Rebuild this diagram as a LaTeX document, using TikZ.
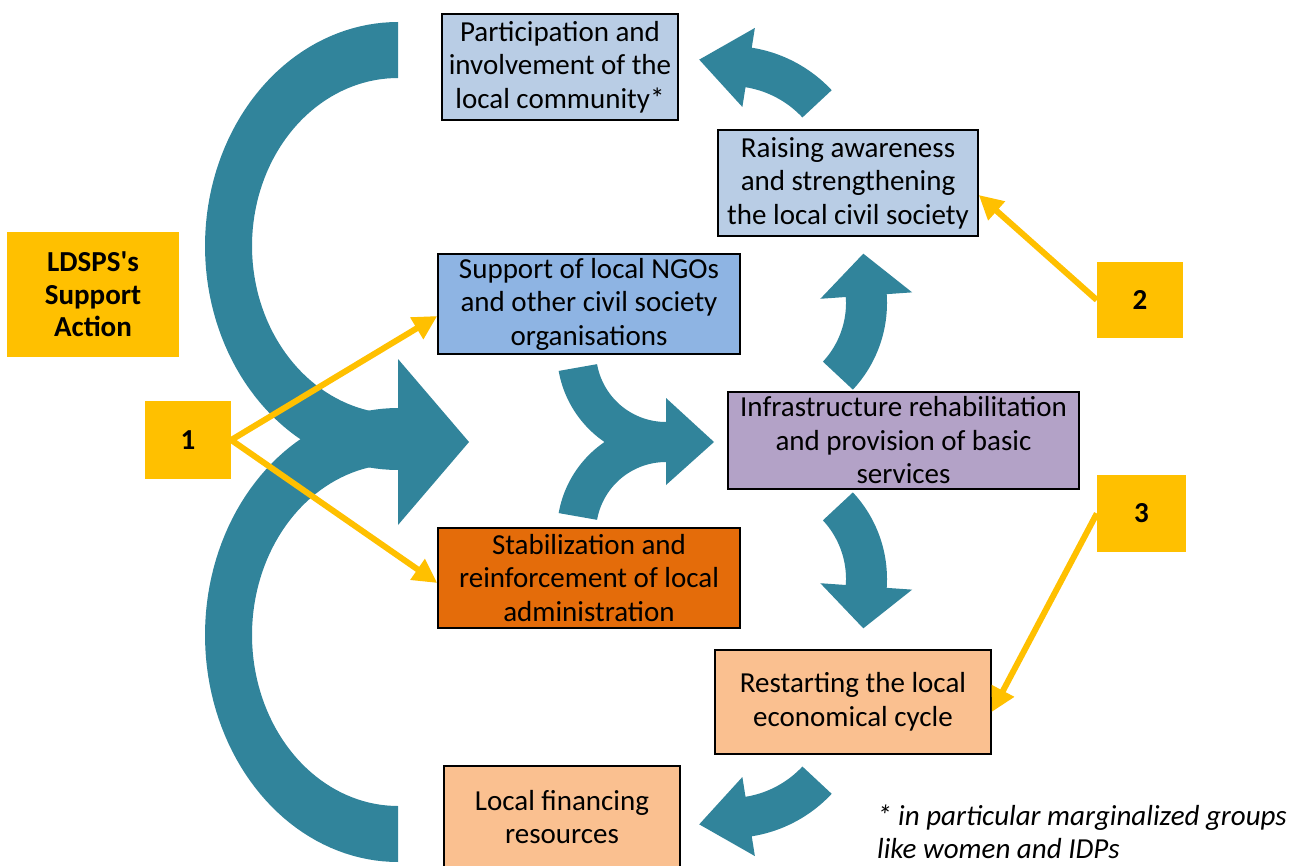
\documentclass[tikz,border=0pt]{standalone}
\usepackage{fontspec}
\setmainfont{Carlito}
\usetikzlibrary{arrows.meta,calc}
\definecolor{teal1}{HTML}{31849B}
\definecolor{ylw}{HTML}{FFC000}
\definecolor{lblue}{HTML}{B9CDE5}
\definecolor{mblue}{HTML}{8EB4E3}
\definecolor{lilac}{HTML}{B3A2C7}
\definecolor{orng}{HTML}{E46C0A}
\definecolor{peach}{HTML}{FAC090}
% curved block arrow: cx cy rinner router startangle endangle headhalfwidth headlength
\newcommand\bentarrow[8]{%
  \pgfmathsetmacro\bAm{(#3+#4)/2}%
  \pgfmathsetmacro\bAd{#6+90*sign(#6-#5)}%
  \pgfmathsetmacro\bAhi{\bAm+#7}%
  \pgfmathsetmacro\bAlo{\bAm-#7}%
  \pgfmathsetmacro\bAtx{#1+\bAm*cos(#6)+#8*cos(\bAd)}%
  \pgfmathsetmacro\bAty{#2+\bAm*sin(#6)+#8*sin(\bAd)}%
  \fill[teal1] plot[domain=#5:#6,samples=40] ({#1+#4*cos(\x)},{#2+#4*sin(\x)})
    -- ({#1+\bAhi*cos(#6)},{#2+\bAhi*sin(#6)})
    -- (\bAtx,\bAty)
    -- ({#1+\bAlo*cos(#6)},{#2+\bAlo*sin(#6)})
    -- plot[domain=#6:#5,samples=40] ({#1+#3*cos(\x)},{#2+#3*sin(\x)})
    -- cycle;}
\begin{document}
\begin{tikzpicture}[x=1pt,y=1pt,yscale=-1,
  box/.style={draw=black, line width=1.5pt, align=center, inner sep=0pt,
    font=\fontsize{29}{33.5}\selectfont},
  tag/.style={fill=ylw, align=center, inner sep=0pt,
    font=\bfseries\fontsize{29}{32.5}\selectfont},
  yarrow/.style={draw=ylw, line width=6pt, -{Triangle[length=24pt,width=24pt]}}]
\useasboundingbox[fill=white] (0,0) rectangle (1300,866);

% big C arrows
\fill[teal1] plot[domain=270:90,samples=80] ({398+193*cos(\x)},{246+224*sin(\x)})
  -- plot[domain=90:270,samples=80] ({398+146*cos(\x)},{246+168*sin(\x)}) -- cycle;
\fill[teal1] plot[domain=270:90,samples=80] ({398+193*cos(\x)},{635+227*sin(\x)})
  -- plot[domain=90:270,samples=80] ({398+146*cos(\x)},{635+171*sin(\x)}) -- cycle;
\fill[teal1] (398,359) -- (469,442) -- (398,525) -- cycle;

% merging arrow
\fill[teal1] plot[domain=170:90,samples=40] ({666+109*cos(\x)},{352+109*sin(\x)})
  -- plot[domain=90:170,samples=40] ({666+70*cos(\x)},{352+70*sin(\x)}) -- cycle;
\fill[teal1] plot[domain=190:270,samples=40] ({666+109*cos(\x)},{532+109*sin(\x)})
  -- plot[domain=270:190,samples=40] ({666+70*cos(\x)},{532+70*sin(\x)}) -- cycle;
\fill[teal1] (666,398) -- (714,442) -- (666,485) -- cycle;

% small curved arrows
\bentarrow{730}{185}{99}{139}{-43}{-81}{40}{50}
\bentarrow{760}{303}{86}{127}{43}{-4}{46}{42}
\bentarrow{760}{579}{86}{127}{-43}{4}{46}{42}
\bentarrow{730}{699}{99}{139}{43}{81}{40}{50}

% boxes
\node[box, fill=lblue, minimum width=236pt, minimum height=106pt] (part) at (560,67)
  {Participation and\\involvement of the\\local community*};
\node[box, fill=lblue, minimum width=260pt, minimum height=106pt] (rais) at (848,183)
  {Raising awareness\\and strengthening\\the local civil society};
\node[box, fill=mblue, minimum width=302pt, minimum height=100pt] (ngo) at (589,304)
  {Support of local NGOs\\and other civil society\\organisations};
\node[box, fill=lilac, minimum width=351pt, minimum height=97pt] (infra) at (903.5,440.5)
  {Infrastructure rehabilitation\\and provision of basic\\services};
\node[box, fill=orng, minimum width=302pt, minimum height=100pt] (stab) at (589,578)
  {Stabilization and\\reinforcement of local\\administration};
\node[box, fill=peach, minimum width=276pt, minimum height=104pt] (rest) at (853,702)
  {Restarting the local\\economical cycle};
\node[box, fill=peach, minimum width=236pt, minimum height=102pt] (fin) at (562,817)
  {Local financing\\resources};

\node[tag, minimum width=172pt, minimum height=125pt] (ldsps) at (93,294.5)
  {LDSPS\textquotesingle s\\Support\\Action};
\node[tag, minimum width=86pt, minimum height=78pt] (n1) at (188,440) {1};
\node[tag, minimum width=86pt, minimum height=76pt] (n2) at (1140,300) {2};
\node[tag, minimum width=89pt, minimum height=77pt] (n3) at (1141.5,513.5) {3};

\node[anchor=west, align=left, inner sep=0pt,
  font=\itshape\fontsize{29}{33}\selectfont] (note) at (877,832)
  {* in particular marginalized groups\\like women and IDPs};

% yellow arrows
\draw[yarrow] (n1.east) -- ($(ngo.west)+(0,12)$);
\draw[yarrow] (n1.east) -- ($(stab.west)+(0,5)$);
\draw[yarrow] (n2.west) -- ($(rais.east)+(0,12)$);
\draw[yarrow] (n3.west) -- ($(rest.east)+(0,10)$);
\end{tikzpicture}
\end{document}
